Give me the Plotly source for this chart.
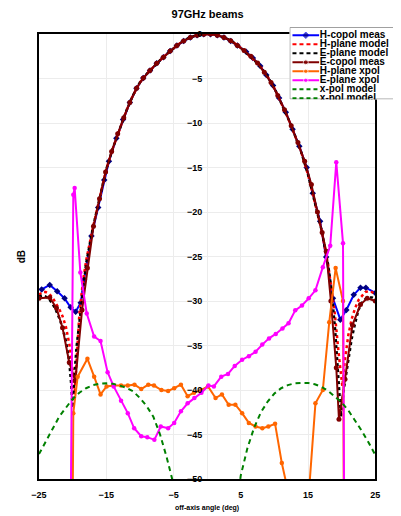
import plotly.graph_objects as go

# ---------------- data ----------------
h_copol_theta = [-24.6, -23.4, -22.3, -21.2, -20.3, -19.55, -18.8, -18.3, -17.2, -16.2,
                 -15.3, -14.6, -13.5, -12.5, -11.5, -10.5, -9.5, -8.5, -7.5, -6.5,
                 -5.5, -4.5, -3.5, -2.5, -1.5, -0.5, 0.5, 1.5, 2.5, 3.5,
                 4.5, 5.8, 6.8, 7.9, 8.8, 9.8, 10.7, 11.7, 12.7, 13.7,
                 14.8, 15.7, 16.8, 17.7, 18.7, 19.8, 20.7, 21.8, 22.8, 23.6, 25.0]
h_copol_db = [-28.7, -28.2, -28.9, -29.7, -30.7, -31.2, -30.2, -27.6, -22.7, -19.5,
              -16.4, -14.3, -11.7, -9.6, -7.7, -6.1, -4.95, -4.1, -3.3, -2.6,
              -1.9, -1.3, -0.78, -0.4, -0.15, -0.02, -0.02, -0.14, -0.4, -0.78,
              -1.3, -2.0, -2.7, -3.6, -4.6, -5.8, -7.2, -8.8, -10.7, -12.6,
              -15.0, -17.9, -21.05, -25.05, -29.7, -32.1, -31.0, -29.3, -28.5, -28.5, -29.1]

e_copol_theta = [-25.0, -23.4, -22.4, -21.5, -20.5, -19.6, -18.6, -17.8, -16.9, -16.0,
                 -15.1, -14.2, -13.3, -12.4, -11.5, -10.5, -9.5, -8.5, -7.5, -6.5,
                 -5.5, -4.5, -3.5, -2.5, -1.5, -0.5, 0.5, 1.5, 2.5, 3.5,
                 4.5, 5.5, 6.5, 7.5, 8.5, 9.5, 10.5, 11.5, 12.5, 13.5,
                 14.5, 15.5, 16.4, 17.1, 17.7, 18.4, 19.2, 19.6, 20.5, 21.6,
                 22.8, 23.8, 25.0]
e_copol_db = [-29.7, -29.6, -30.8, -33.0, -36.9, -39.0, -31.0, -26.3, -21.6, -18.5,
              -15.5, -13.2, -11.2, -9.4, -7.7, -6.1, -4.95, -4.1, -3.3, -2.6,
              -1.9, -1.3, -0.78, -0.4, -0.15, -0.02, -0.01, -0.13, -0.38, -0.76,
              -1.28, -1.85, -2.5, -3.25, -4.3, -5.45, -6.9, -8.5, -10.3, -12.2,
              -14.3, -16.9, -20.0, -22.3, -24.4, -30.0, -37.5, -43.3, -38.8, -32.7,
              -30.4, -29.7, -30.0]

h_model_theta = [-25, -24.5, -24, -23.5, -23, -22.5, -22, -21.5, -21, -20.5, -20, -19.7, -19.4, -19, -18.5, -18,
                 -17, -16, -15, -14, -13, -12, -11, -10, -9, -8, -7, -6, -5, -4, -3, -2, -1, 0,
                 1, 2, 3, 4, 5, 6, 7, 8, 9, 10, 11, 12, 13, 14, 15, 16, 17, 18,
                 18.5, 19, 19.5, 20.1, 20.5, 21, 21.5, 22, 22.5, 23, 23.5, 24, 24.5, 25]
h_model_db = [-29.3, -29.0, -29.0, -29.2, -29.6, -30.2, -30.9, -31.7, -32.9, -34.8, -37.8, -40.5, -36.5, -31.5, -28.0, -25.5,
              -21.8, -18.5, -15.2, -12.8, -10.6, -8.6, -6.85, -5.45, -4.5, -3.7, -2.95, -2.25, -1.6, -1.0, -0.55, -0.24, -0.06, 0.0,
              -0.06, -0.24, -0.55, -1.0, -1.55, -2.2, -2.95, -3.75, -4.8, -6.1, -7.7, -9.4, -11.3, -13.3, -15.8, -18.8, -22.0, -26.0,
              -28.5, -31.5, -35.5, -39.6, -36.5, -33.8, -32.0, -30.8, -29.9, -29.4, -29.0, -28.9, -29.0, -29.2]

e_model_theta = [-25, -24.5, -24, -23.5, -23, -22.5, -22, -21.5, -21, -20.5, -20.2, -20.0, -19.7, -19.4, -19, -18.5, -18,
                 -17, -16, -15, -14, -13, -12, -11, -10, -9, -8, -7, -6, -5, -4, -3, -2, -1, 0,
                 1, 2, 3, 4, 5, 6, 7, 8, 9, 10, 11, 12, 13, 14, 15, 16, 17, 18,
                 18.5, 19, 19.5, 19.9, 20.3, 20.9, 21.5, 22, 22.5, 23, 23.5, 24, 24.5, 25]
e_model_db = [-29.5, -29.4, -29.5, -29.8, -30.3, -31.0, -31.9, -33.0, -34.5, -36.8, -39.5, -42.0, -38.0, -35.0, -32.5, -29.0, -25.8,
              -21.8, -18.5, -15.2, -12.8, -10.6, -8.6, -6.85, -5.45, -4.5, -3.7, -2.95, -2.25, -1.6, -1.0, -0.55, -0.24, -0.06, 0.0,
              -0.06, -0.24, -0.55, -1.0, -1.55, -2.2, -2.95, -3.75, -4.8, -6.1, -7.7, -9.4, -11.3, -13.3, -15.8, -18.8, -22.0, -26.0,
              -28.8, -33.0, -38.5, -43.0, -40.0, -36.9, -34.2, -32.5, -31.0, -30.2, -29.8, -29.6, -29.6, -29.8]

h_xpol_theta = [-20.05, -19.9, -19.25, -17.8, -16.8, -15.85, -14.95, -13.9, -12.8, -11.8,
                -10.8, -9.8, -8.75, -7.9, -6.8, -5.8, -4.9, -3.9, -2.9, -1.95,
                -0.85, 0.13, 1.25, 2.2, 3.2, 4.2, 5.2, 6.2, 7.2, 8.2,
                9.1, 10.1, 11.1, 12.5, 14.6, 16.1, 17.2, 18.15, 19.1, 20.2, 20.35]
h_xpol_db = [-60, -42.6, -38.5, -36.5, -38.5, -40.5, -39.6, -39.5, -39.5, -39.5,
             -39.4, -39.9, -39.4, -39.5, -40.0, -40.1, -39.8, -39.4, -40.7, -40.3,
             -40.0, -39.6, -40.9, -40.5, -41.65, -41.65, -42.6, -43.7, -44.1, -44.3,
             -44.1, -43.8, -48.2, -53, -57, -41.5, -40.0, -32.4, -26.3, -30.0, -60]

e_xpol_theta = [-20.35, -19.9, -19.7, -18.85, -17.9, -16.8, -15.85, -14.8, -13.9, -12.8,
                -11.8, -10.85, -9.8, -8.9, -7.85, -6.9, -5.8, -4.9, -3.9, -2.9,
                -1.9, -0.85, 0.2, 1.0, 2.1, 3.1, 4.1, 5.2, 6.2, 7.2,
                8.2, 9.2, 10.2, 11.2, 12.1, 13.1, 14.1, 15.1, 16.1, 17.2,
                18.3, 19.2, 20.2, 20.4]
e_xpol_db = [-60, -18.05, -17.3, -26.8, -31.4, -34.0, -34.5, -38.0, -39.6, -41.2,
             -42.6, -44.3, -45.2, -45.3, -45.6, -44.1, -44.3, -43.7, -42.4, -41.5,
             -40.9, -40.3, -39.5, -39.6, -38.5, -38.2, -37.3, -36.6, -36.2, -35.7,
             -34.9, -34.2, -33.7, -33.1, -32.5, -31.05, -30.5, -29.7, -28.8, -26.2,
             -23.8, -14.4, -23.5, -60]

xpol_model_l_theta = [-25, -24, -23, -22, -21, -20, -19, -18, -17, -16, -15, -14, -13, -12,
                      -11, -10, -9, -8, -7, -6, -5.2, -4.6]
xpol_model_l_db = [-47.2, -45.8, -44.4, -43.0, -42.0, -41.0, -40.3, -39.8, -39.45, -39.3, -39.25, -39.3, -39.5, -39.75,
                   -40.15, -40.9, -41.8, -43.0, -45.0, -47.6, -50.0, -53.0]

xpol_model_r_theta = [4.4, 5, 6, 7, 8, 9, 10, 11, 12, 13, 14, 15, 16, 17, 18, 19, 20, 21, 22, 23, 24, 25]
xpol_model_r_db = [-53.0, -49.6, -46.5, -44.2, -42.5, -41.3, -40.4, -39.8, -39.45, -39.25, -39.2, -39.2,
                   -39.35, -39.65, -40.1, -40.7, -41.4, -42.3, -43.4, -44.6, -45.9, -47.3]

x_tick_vals = [-25, -15, -5, 5, 15, 25]
legend_names = ["H-copol meas", "H-plane model", "E-plane model", "E-copol meas",
                "H-plane xpol", "E-plane xpol", "x-pol model", "x-pol model"]

# ---------------- styles ----------------
FONT = "Liberation Sans, Arial, sans-serif"
BLUE, NAVY = "#0000FF", "#000080"
RED, BLACK = "#FF0000", "#000000"
MAROON, ORANGE, MAGENTA, GREEN = "#800000", "#FF6600", "#FF00FF", "#008000"

styles = [
    dict(color=BLUE, dash="solid", width=2, marker=dict(symbol="diamond", size=5, color=NAVY)),
    dict(color=RED, dash="dot", width=2.5, marker=None),
    dict(color=BLACK, dash="dot", width=2.5, marker=None),
    dict(color=MAROON, dash="solid", width=2, marker=dict(symbol="circle", size=5, color=MAROON)),
    dict(color=ORANGE, dash="solid", width=2, marker=dict(symbol="circle", size=4.5, color=ORANGE)),
    dict(color=MAGENTA, dash="solid", width=2, marker=dict(symbol="circle", size=4.5, color=MAGENTA)),
    dict(color=GREEN, dash="5px,4px", width=2, marker=None),
    dict(color=GREEN, dash="5px,4px", width=2, marker=None),
]
series = [(h_copol_theta, h_copol_db), (h_model_theta, h_model_db), (e_model_theta, e_model_db),
          (e_copol_theta, e_copol_db), (h_xpol_theta, h_xpol_db), (e_xpol_theta, e_xpol_db),
          (xpol_model_l_theta, xpol_model_l_db), (xpol_model_r_theta, xpol_model_r_db)]

fig = go.Figure()
for i, ((xs, ys), st) in enumerate(zip(series, styles)):
    kw = dict(x=xs, y=ys, name=legend_names[i], showlegend=False,
              line=dict(color=st["color"], dash=st["dash"], width=st["width"]),
              hoverinfo="skip")
    if st["marker"]:
        kw["mode"] = "lines+markers"
        kw["marker"] = st["marker"]
    else:
        kw["mode"] = "lines"
    if i >= 6:
        kw["yaxis"] = "y2"
    fig.add_trace(go.Scatter(**kw))

# ---------------- custom legend (box clipped like the original) ----------------
row_y = [0.886, 0.761, 0.637, 0.513, 0.389, 0.265, 0.141, 0.017]
for i, st in enumerate(styles):
    fig.add_trace(go.Scatter(
        x=[0.028, 0.153, 0.278], y=[row_y[i]] * 3, xaxis="x2", yaxis="y3",
        mode="lines+markers" if st["marker"] else "lines",
        line=dict(color=st["color"], dash="4px,3px" if st["dash"] != "solid" else "solid",
                  width=2),
        marker=(dict(symbol=st["marker"]["symbol"], color=st["marker"]["color"],
                     size=[0, st["marker"]["size"], 0]) if st["marker"] else None),
        showlegend=False, hoverinfo="skip"))
fig.add_trace(go.Scatter(
    x=[0.285] * len(legend_names), y=row_y, xaxis="x2", yaxis="y3", mode="text",
    text=legend_names, textposition="middle right",
    textfont=dict(family=FONT, size=10, color="black", weight="bold"),
    showlegend=False, hoverinfo="skip"))

fig.add_shape(type="rect", xref="x2", yref="y3", x0=0.004, x1=1.3, y0=0.007, y1=0.993,
              line=dict(color="#a0a0a0", width=1), fillcolor="white", layer="below")

# ---------------- layout ----------------
# the page body has an 8px margin, so the figure is placed 8px in from the window corner
OFF = 8
W, H = 401 - OFF, 516 - OFF
ml, mr, mt, mb = 39 - OFF, 0, 27 - OFF, 37
pw, ph = W - ml - mr, H - mt - mb
x_dom_end = (380 - 39) / pw
y_dom_end = (479 - 34) / ph

grid = "#ececec"
fig.update_layout(
    width=W, height=H,
    margin=dict(l=ml, r=mr, t=mt, b=mb, pad=0),
    paper_bgcolor="white", plot_bgcolor="white",
    title=dict(text="97GHz beams", x=(210 - 39) / pw, xref="paper", xanchor="center",
               y=1 - (14 - OFF) / H, yref="container", yanchor="middle",
               font=dict(family=FONT, size=11, color="black", weight="bold")),
    xaxis=dict(domain=[0, x_dom_end], range=[-25, 25], tickvals=x_tick_vals,
               showgrid=True, gridcolor=grid, gridwidth=1,
               zeroline=True, zerolinecolor=grid, zerolinewidth=1,
               showline=True, mirror=True, linecolor="black", linewidth=2,
               ticks="outside", ticklen=6, tickcolor="rgba(0,0,0,0)",
               tickfont=dict(family=FONT, size=9, color="black", weight="bold"),
               anchor="y", fixedrange=True),
    yaxis=dict(domain=[0, y_dom_end], range=[-50, 0], dtick=5,
               showgrid=True, gridcolor=grid, gridwidth=1, zeroline=False,
               showline=True, mirror=True, linecolor="black", linewidth=2,
               showticklabels=False, ticks="", anchor="x", fixedrange=True),
    yaxis2=dict(overlaying="y", anchor="free", position=(209.5 - 39) / pw, side="left",
                range=[-50, 0], dtick=5, showgrid=False, zeroline=False, showline=False,
                ticks="outside", ticklen=3, tickcolor="rgba(0,0,0,0)",
                tickfont=dict(family=FONT, size=9, color="black", weight="bold"),
                fixedrange=True),
    xaxis2=dict(domain=[(293 - 39) / pw, 1.0], range=[0, 1], anchor="y3", visible=False,
                fixedrange=True),
    yaxis3=dict(domain=[(479 - 99.5) / ph, 1.0], range=[0, 1], anchor="x2", visible=False,
                fixedrange=True),
    annotations=[
        dict(text="dB", xref="paper", yref="paper", x=(21 - 39) / pw, y=(479 - 257) / ph,
             showarrow=False, textangle=-90, xanchor="center", yanchor="middle",
             font=dict(family=FONT, size=10, color="black", weight="bold")),
        dict(text="off-axis angle (deg)", xref="paper", yref="paper",
             x=(209.5 - 39) / pw, y=(479 - 508) / ph, showarrow=False,
             xanchor="center", yanchor="middle",
             font=dict(family=FONT, size=7, color="black", weight="bold")),
    ],
)

fig.write_html("out.html")
